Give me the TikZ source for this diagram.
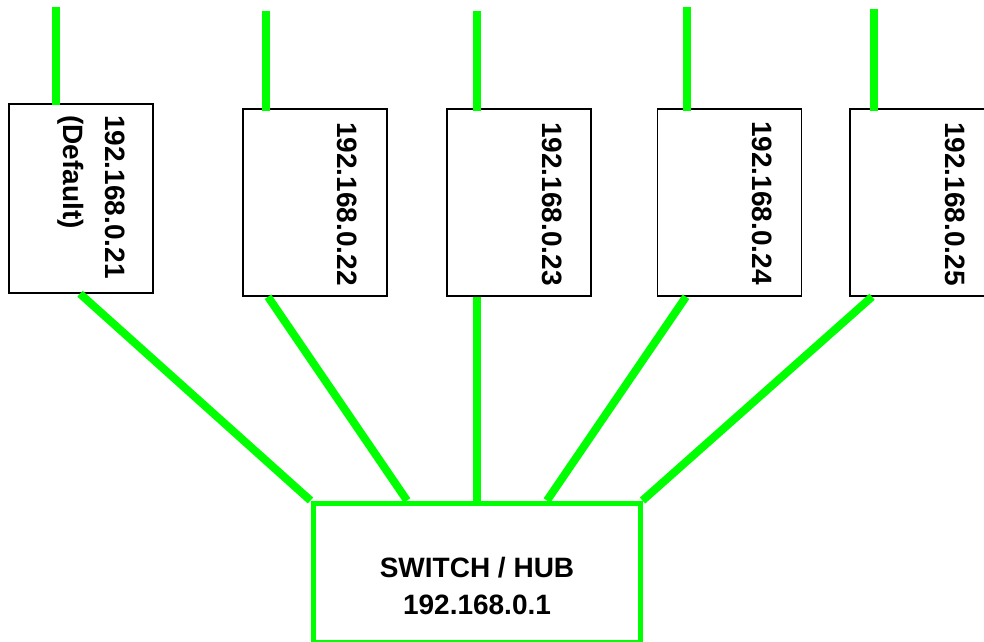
\documentclass[tikz,border=0pt]{standalone}
\usepackage{fontspec}
\setmainfont{Liberation Sans}
\definecolor{netgreen}{RGB}{0,255,0}
\begin{document}
\begin{tikzpicture}[x=1pt,y=-1pt,
  hostbox/.style={draw=black,line width=1.5pt,fill=white,rectangle,inner sep=0pt,minimum width=144pt},
  iptext/.style={font=\bfseries\fontsize{28}{32}\selectfont,rotate=-90,anchor=west,inner sep=0pt},
  wire/.style={draw=netgreen,line width=8pt},
  switchbox/.style={draw=netgreen,line width=5pt,rectangle,inner sep=0pt,minimum width=327pt,minimum height=139pt},
  switchtext/.style={font=\bfseries\fontsize{28}{37}\selectfont,align=center,inner sep=0pt}]
\useasboundingbox (0,0) rectangle (984,641);
% host boxes
\node[hostbox,minimum height=189pt] (b1) at (81,198.5) {};
\node[hostbox,minimum height=187pt] (b2) at (315,202.5) {};
\node[hostbox,minimum height=187pt] (b3) at (519,202.5) {};
\node[hostbox,minimum height=187pt] (b4) at (729.5,202.5) {};
\node[hostbox,minimum height=187pt] (b5) at (922,202.5) {};
% labels
\node[iptext] (l1) at (115,115) {192.168.0.21};
\node[iptext] (l1d) at (71,115) {(Default)};
\node[iptext] (l2) at (347.5,122) {192.168.0.22};
\node[iptext] (l3) at (552.5,122) {192.168.0.23};
\node[iptext] (l4) at (762.5,121) {192.168.0.24};
\node[iptext] (l5) at (955,122) {192.168.0.25};
% switch
\node[switchbox] (sw) at (476.5,572.5) {};
\node[switchtext] (swt) at (477,586) {SWITCH / HUB\\192.168.0.1};
% top cables
\coordinate (t1) at (56,7);
\coordinate (t2) at (266,11);
\coordinate (t3) at (477,11);
\coordinate (t4) at (687,7);
\coordinate (t5) at (874,9);
\draw[wire] (t1) -- ([yshift=-2pt]t1 |- b1.north);
\draw[wire] (t2) -- ([yshift=-3pt]t2 |- b2.north);
\draw[wire] (t3) -- ([yshift=-3pt]t3 |- b3.north);
\draw[wire] (t4) -- ([yshift=-3pt]t4 |- b4.north);
\draw[wire] (t5) -- ([yshift=-3pt]t5 |- b5.north);
% cables to switch
\draw[wire] ([xshift=-1pt]b1.south) -- (sw.north west);
\draw[wire] ([xshift=-47pt]b2.south) -- ([xshift=-69.5pt]sw.north);
\draw[wire] ([xshift=-42pt]b3.south) -- ([xshift=0.5pt]sw.north);
\draw[wire] ([xshift=-43.5pt]b4.south) -- ([xshift=70.5pt]sw.north);
\draw[wire] ([xshift=-50pt]b5.south) -- (sw.north east);
\end{tikzpicture}
\end{document}
